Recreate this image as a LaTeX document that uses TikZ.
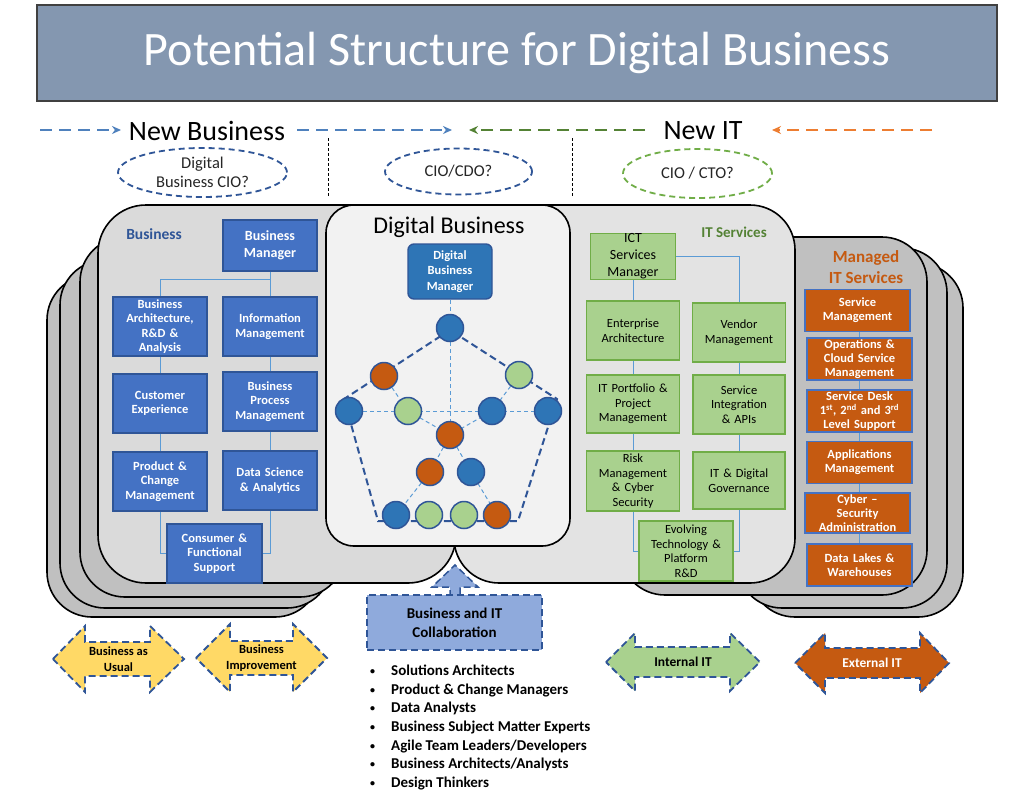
\documentclass[tikz,border=0pt]{standalone}
\usepackage{fontspec}
\setmainfont{Carlito}
\usetikzlibrary{arrows.meta,shapes.geometric}
\definecolor{titlefill}{HTML}{8497B0}
\definecolor{bfill}{HTML}{4472C4}
\definecolor{bdark}{HTML}{2F5597}
\definecolor{lblue}{HTML}{5B9BD5}
\definecolor{hblue}{HTML}{4F81BD}
\definecolor{gfill}{HTML}{A9D18E}
\definecolor{gdark}{HTML}{548235}
\definecolor{gmid}{HTML}{70AD47}
\definecolor{ofill}{HTML}{C55A11}
\definecolor{oarrow}{HTML}{ED7D31}
\definecolor{yfill}{HTML}{FFD966}
\definecolor{cfill}{HTML}{8FAADC}
\definecolor{panelA}{HTML}{DADADA}
\definecolor{panelB}{HTML}{E3E3E3}
\definecolor{layergray}{HTML}{C0C0C0}
\definecolor{dpanel}{HTML}{F2F2F2}
\definecolor{cblue}{HTML}{2E75B6}
\newcommand{\fs}[2]{\fontsize{#1}{#2}\selectfont}
\newcommand{\dblarr}[8]{%
 \filldraw[#1] (#2,#6) -- (#3,{#6-#8}) -- (#3,{#6-#7}) -- (#4,{#6-#7}) -- (#4,{#6-#8}) -- (#5,#6) -- (#4,{#6+#8}) -- (#4,{#6+#7}) -- (#3,{#6+#7}) -- (#3,{#6+#8}) -- cycle;}
\newcommand{\bul}{\makebox[21pt][l]{\raisebox{1pt}{\fs{10}{10}\textbullet}}}
\tikzset{
 panel/.style={draw=black, line width=1.6pt},
 bbox/.style={draw=bdark, fill=bfill, line width=1.4pt, text=white, font=\bfseries\fs{12.5}{14.5}, align=center, inner sep=0pt, minimum width=94pt, minimum height=59pt, text width=94pt},
 gbox/.style={draw=gmid, fill=gfill, line width=1.4pt, text=black, font=\fs{12.5}{14.5}, align=center, inner sep=0pt, minimum width=93pt, minimum height=59pt, text width=92pt},
 obox/.style={draw=bfill, fill=ofill, line width=1.4pt, text=white, font=\bfseries\fs{12.5}{14}, align=center, inner sep=0pt, minimum width=105pt, minimum height=42pt, text width=105pt},
 conn/.style={draw=lblue, line width=0.9pt},
 hdr/.style={dash pattern=on 12pt off 7pt, line width=1.6pt, -{Stealth[length=9pt,width=8pt]}},
 ell/.style={ellipse, dash pattern=on 6pt off 4pt, line width=1.8pt, inner sep=0pt, align=center, font=\fs{16.5}{19}, text=black!85},
 dot/.style={circle, draw=bdark, line width=1.5pt, minimum size=27pt, inner sep=0pt},
 netthick/.style={draw=bdark, line width=2pt, dash pattern=on 7pt off 4pt},
 netthin/.style={draw=lblue, line width=1pt, dash pattern=on 4pt off 3pt},
 dblstyle/.style={draw=bdark, line width=1.8pt, dash pattern=on 7pt off 4pt},
 arrtext/.style={font=\bfseries\fs{12.5}{16}, align=center},
}
\begin{document}
\begin{tikzpicture}[x=1pt,y=-1pt]
\useasboundingbox (0,0) rectangle (1024,809);
\fill[white] (0,0) rectangle (1024,809);

% ---------- title ----------
\node[draw=black!75, line width=1.5pt, fill=titlefill, minimum width=960pt, minimum height=96pt, inner sep=0pt, text=white, font=\fs{48}{56}] (title) at (517,53) {Potential Structure for Digital Business};

% ---------- header ----------
\node[font=\fs{28}{32}, inner sep=0pt] (nb) at (207,131) {New Business};
\node[font=\fs{28}{32}, inner sep=0pt] (nit) at (703,131) {New IT};
\coordinate (h1s) at (40,130);  \coordinate (h1e) at (121,130);
\coordinate (h2s) at (297,130); \coordinate (h2e) at (452,130);
\coordinate (h3s) at (645,130); \coordinate (h3e) at (469,130);
\coordinate (h4s) at (932,130); \coordinate (h4e) at (772,130);
\draw[hdr, draw=hblue] (h1s) -- (h1e);
\draw[hdr, draw=hblue] (h2s) -- (h2e);
\draw[hdr, draw=gdark] (h3s) -- (h3e);
\draw[hdr, draw=oarrow] (h4s) -- (h4e);
\coordinate (v1a) at (328,138); \coordinate (v1b) at (328,197);
\coordinate (v2a) at (572,138); \coordinate (v2b) at (572,197);
\draw[black, line width=0.8pt, dash pattern=on 3pt off 2pt] (v1a) -- (v1b);
\draw[black, line width=0.8pt, dash pattern=on 3pt off 2pt] (v2a) -- (v2b);
\node[ell, draw=bdark, minimum width=169pt, minimum height=49pt] (e1) at (202.5,172.5) {Digital\\Business CIO?};
\node[ell, draw=bdark, minimum width=147pt, minimum height=46pt] (e2) at (458.5,171.5) {CIO/CDO?};
\node[ell, draw=gmid, minimum width=149pt, minimum height=49pt] (e3) at (697.5,173.5) {CIO / CTO?};

% ---------- managed IT layers ----------
\filldraw[panel, fill=layergray, rounded corners=45pt] (750,263) rectangle (963,617);
\filldraw[panel, fill=layergray, rounded corners=45pt] (737,248) rectangle (947,608);
\filldraw[panel, fill=layergray, rounded corners=45pt] (620,237) rectangle (927,595);

% ---------- business layers ----------
\filldraw[panel, fill=layergray, rounded corners=45pt] (47,275) rectangle (320,617);
\filldraw[panel, fill=layergray, rounded corners=45pt] (60,260) rectangle (332,608);
\filldraw[panel, fill=layergray, rounded corners=45pt] (80,237) rectangle (345,597);

% ---------- main panels ----------
\filldraw[panel, fill=panelA, rounded corners=48pt] (98,205) rectangle (456,583);
\filldraw[panel, fill=panelB, rounded corners=45pt] (454,205) rectangle (795,583);
\filldraw[panel, fill=dpanel, rounded corners=28pt] (326,205) rectangle (570,546);

% ---------- Business ----------
\node[font=\bfseries\fs{15.5}{18}, text=bdark] (blabel) at (154,234) {Business};
\node[bbox, minimum width=92pt, minimum height=51pt, font=\bfseries\fs{14}{16.5}] (bm) at (270,245.5) {Business\\Manager};
\node[bbox] (ba) at (160,326.5) {Business\\Architecture,\\R\&D \&\\Analysis};
\node[bbox] (im) at (270,326.5) {Information\\Management};
\node[bbox] (ce) at (160,403.5) {Customer\\Experience};
\node[bbox] (bpm) at (270,401.5) {Business\\Process\\Management};
\node[bbox] (pcm) at (160,481.5) {Product \&\\Change\\Management};
\node[bbox] (dsa) at (270,480.5) {Data Science\\\& Analytics};
\node[bbox, minimum width=95pt] (cfs) at (214.5,553.5) {Consumer \&\\Functional\\Support};
\draw[conn] (bm.south) -- (im.north);
\draw[conn] (bm.south) ++(0,8) -| (ba.north);
\draw[conn] (ba.south) -- (ce.north);
\draw[conn] (im.south) -- (bpm.north);
\draw[conn] (ce.south) -- (pcm.north);
\draw[conn] (bpm.south) -- (dsa.north);
\draw[conn] (pcm.south) |- (cfs.west);
\draw[conn] (dsa.south) |- (cfs.east);

% ---------- Digital Business ----------
\node[font=\fs{24}{28}] (dblabel) at (449,227) {Digital Business};
\node[draw=bdark, fill=cblue, line width=1.4pt, rounded corners=6pt, minimum width=84pt, minimum height=55pt, inner sep=0pt, text=white, font=\bfseries\fs{12.5}{15.5}, align=center] (dbm) at (450,271.5) {Digital\\Business\\Manager};
\coordinate (c1) at (450,328);
\coordinate (c2) at (384,376);
\coordinate (c3) at (519,375);
\coordinate (c4) at (349,411);
\coordinate (c5) at (408,411);
\coordinate (c6) at (492,411);
\coordinate (c7) at (548,411);
\coordinate (c8) at (450,435);
\coordinate (c9) at (430,472);
\coordinate (c10) at (471,472);
\coordinate (c11) at (396,515);
\coordinate (c12) at (429,515);
\coordinate (c13) at (464,515);
\coordinate (c14) at (497,515);
\coordinate (p1) at (450,330);
\coordinate (p2) at (344,399);
\coordinate (p3) at (378,521);
\coordinate (p4) at (518,521);
\coordinate (p5) at (557,399);
\draw[netthin] (dbm.south) -- (c1);
\draw[netthin] (c1) -- (c8);
\draw[netthin] (c4) -- (c7);
\draw[netthin] (c2) -- (c5) -- (c8);
\draw[netthin] (c3) -- (c6) -- (c8);
\draw[netthin] (c8) -- (c9) -- (c11);
\draw[netthin] (c8) -- (c10) -- (c14);
\draw[netthick] (p1) -- (p2) -- (p3) -- (p4) -- (p5) -- cycle;
\node[dot, fill=cblue] (n1) at (c1) {};
\node[dot, fill=ofill] (n2) at (c2) {};
\node[dot, fill=gfill] (n3) at (c3) {};
\node[dot, fill=cblue] (n4) at (c4) {};
\node[dot, fill=gfill] (n5) at (c5) {};
\node[dot, fill=cblue] (n6) at (c6) {};
\node[dot, fill=cblue] (n7) at (c7) {};
\node[dot, fill=ofill] (n8) at (c8) {};
\node[dot, fill=ofill] (n9) at (c9) {};
\node[dot, fill=cblue] (n10) at (c10) {};
\node[dot, fill=cblue] (n11) at (c11) {};
\node[dot, fill=gfill] (n12) at (c12) {};
\node[dot, fill=gfill] (n13) at (c13) {};
\node[dot, fill=ofill] (n14) at (c14) {};

% ---------- IT Services ----------
\node[font=\bfseries\fs{15}{18}, text=gdark] (itlabel) at (734,232) {IT Services};
\node[gbox, minimum width=85pt, minimum height=45pt, text width=84pt, font=\fs{14}{17}] (ict) at (633,256.5) {ICT\\Services\\Manager};
\node[gbox] (ea) at (633,330.5) {Enterprise\\Architecture};
\node[gbox] (vm) at (739,332.5) {Vendor\\Management};
\node[gbox, minimum height=58pt] (itp) at (633,404) {IT Portfolio \&\\Project\\Management};
\node[gbox, minimum width=92pt] (sia) at (739,404.5) {Service\\Integration\\\& APIs};
\node[gbox, minimum height=60pt] (risk) at (633,481) {Risk\\Management\\\& Cyber\\Security};
\node[gbox, minimum width=92pt, minimum height=57pt] (itdg) at (739,480.5) {IT \& Digital\\Governance};
\node[gbox, minimum width=94pt, minimum height=60pt] (etp) at (686,551) {Evolving\\Technology \&\\Platform\\R\&D};
\draw[conn] (ict.east) -| (vm.north);
\draw[conn] (ict.south) -- (ea.north);
\draw[conn] (ea.south) -- (itp.north);
\draw[conn] (vm.south) -- (sia.north);
\draw[conn] (itp.south) -- (risk.north);
\draw[conn] (sia.south) -- (itdg.north);
\draw[conn] (risk.south) |- (etp.west);
\draw[conn] (itdg.south) |- (etp.east);

% ---------- Managed IT Services ----------
\node[font=\bfseries\fs{17}{21}, text=ofill, align=center] (mlabel) at (866,267) {Managed\\IT Services};
\node[obox, minimum width=101pt] (sm) at (857.5,310.5) {Service\\Management};
\node[obox] (ocs) at (859.5,359) {Operations \&\\Cloud Service\\Management};
\node[obox] (sd) at (859.5,411) {Service Desk\\1\textsuperscript{st}, 2\textsuperscript{nd} and 3\textsuperscript{rd}\\Level Support};
\node[obox] (am) at (859.5,462.5) {Applications\\Management};
\node[obox, minimum width=101pt, minimum height=40pt] (cy) at (857.5,513) {Cyber --\\Security\\Administration};
\node[obox] (dl) at (859.5,565) {Data Lakes \&\\Warehouses};
\draw[conn] (sm.south -| 859,0) -- (ocs.north -| 859,0);
\draw[conn] (ocs.south -| 859,0) -- (sd.north -| 859,0);
\draw[conn] (sd.south -| 859,0) -- (am.north -| 859,0);
\draw[conn] (am.south -| 859,0) -- (cy.north -| 859,0);
\draw[conn] (cy.south -| 859,0) -- (dl.north -| 859,0);

% ---------- bottom arrows ----------
\dblarr{dblstyle, fill=yfill}{53}{85}{150}{184}{659}{17}{33}
\node[arrtext] (bau) at (118.5,659) {Business as\\Usual};
\dblarr{dblstyle, fill=yfill}{196}{230}{293}{327}{658}{17}{34}
\node[arrtext] (bi) at (261.5,658) {Business\\Improvement};
\dblarr{dblstyle, fill=gfill}{606}{635}{730}{760}{662}{15}{29}
\node[arrtext, font=\bfseries\fs{13.5}{16}] (iit) at (683,662) {Internal IT};
\dblarr{dblstyle, fill=ofill}{795}{825}{920}{949}{663}{15}{30}
\node[arrtext, font=\bfseries\fs{13.5}{16}, text=white] (eit) at (872,663) {External IT};

% ---------- collaboration ----------
\filldraw[dblstyle, line width=1.5pt, fill=cfill] (450,597) -- (450,587) -- (432,587) -- (455,565) -- (478,587) -- (460,587) -- (460,597) -- cycle;
\node[draw=bdark, dash pattern=on 7pt off 4pt, line width=1.5pt, fill=cfill, minimum width=175pt, minimum height=55pt, inner sep=0pt, font=\bfseries\fs{15}{19}, align=center] (collab) at (454.5,622.5) {Business and IT\\Collaboration};
\node[anchor=north west, inner sep=0pt, font=\bfseries\fs{15}{18.6}, align=left] (list) at (370,665) {%
\bul Solutions Architects\\
\bul Product \& Change Managers\\
\bul Data Analysts\\
\bul Business Subject Matter Experts\\
\bul Agile Team Leaders/Developers\\
\bul Business Architects/Analysts\\
\bul Design Thinkers};
\end{tikzpicture}
\end{document}
